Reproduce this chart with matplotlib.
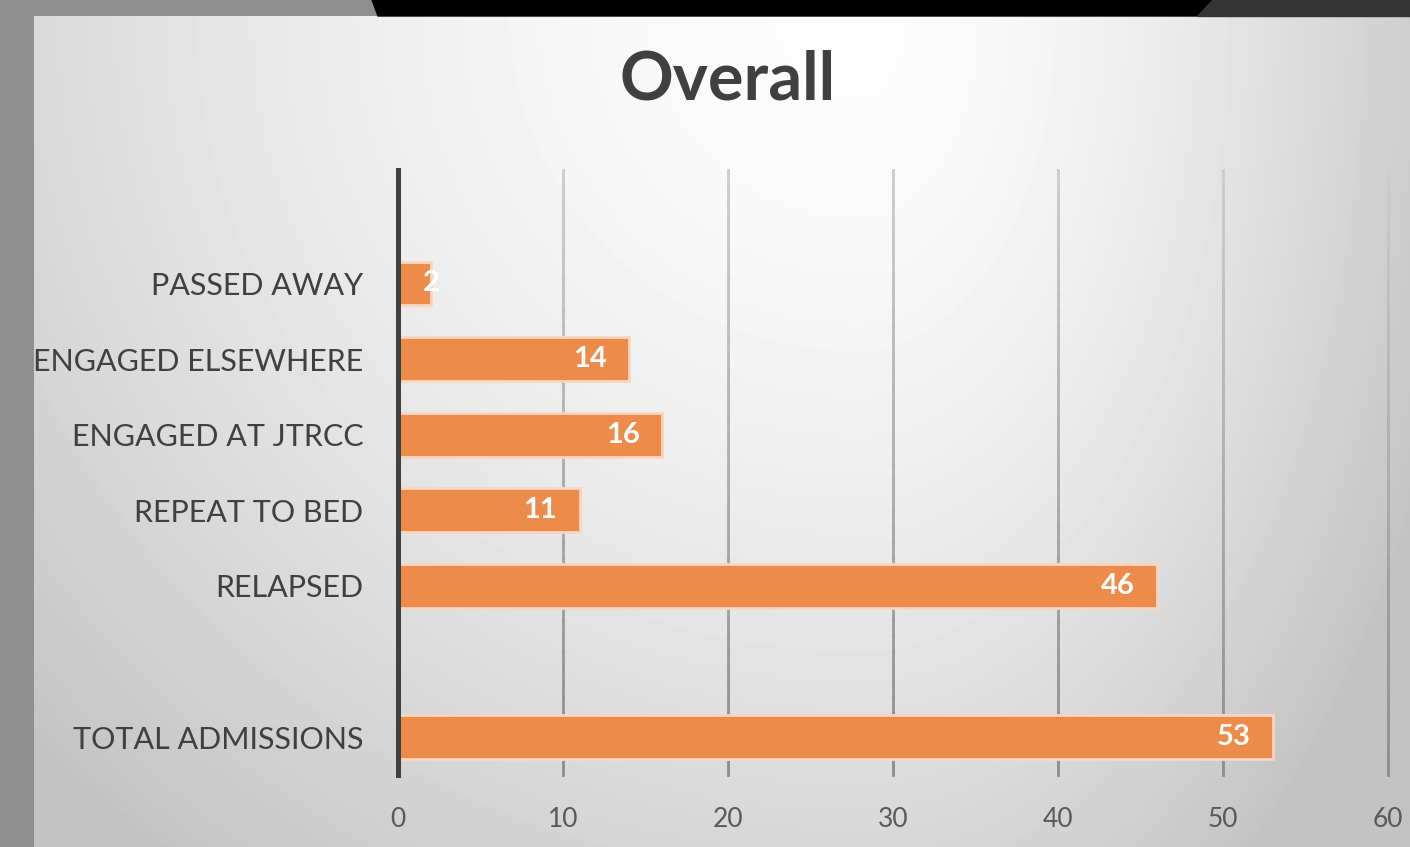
import numpy as np
import matplotlib.pyplot as plt
from matplotlib.patches import Polygon
from matplotlib.collections import LineCollection

# --- data ---
categories = ['', 'PASSED AWAY', 'ENGAGED ELSEWHERE', 'ENGAGED AT JTRCC',
              'REPEAT TO BED', 'RELAPSED', '', 'TOTAL ADMISSIONS']
values = [None, 2, 14, 16, 11, 46, None, 53]
xticks = [0, 10, 20, 30, 40, 50, 60]

W, H = 1410, 847
fig = plt.figure(figsize=(W / 100, H / 100), dpi=100)
fig.patch.set_facecolor('#8f8f8f')

# --- background (slide + panel gradient) ---
bg = fig.add_axes([0, 0, 1, 1])
bg.set_xlim(0, W)
bg.set_ylim(H, 0)
bg.axis('off')

xx, yy = np.meshgrid(np.arange(34, W), np.arange(16, H))
cx = 860
dx = np.where(xx < cx, (cx - xx) / 1150.0, (xx - cx) / 640.0)
dy = (yy - 16) / 1100.0
d = np.sqrt(dx ** 2 + dy ** 2)
shade = np.clip(253 - 60 * d ** 1.6, 196, 253) / 255.0
bg.imshow(shade, cmap='gray', vmin=0, vmax=1, extent=[34, W, H, 16],
          aspect='auto', interpolation='bilinear')
bg.add_patch(Polygon([[372, 0], [1212, 0], [1197, 16], [378, 16]],
                     closed=True, color='black'))
bg.add_patch(Polygon([[1212, 0], [W, 0], [W, 16], [1197, 16]],
                     closed=True, color='#343434'))

# --- chart ---
ax = fig.add_axes([398 / W, (H - 775) / H, (1388 - 398) / W, (775 - 170) / H])
ax.patch.set_alpha(0)
ax.set_xlim(0, 60)
ax.set_ylim(len(categories) - 0.5, -0.5)

# gridlines fading from light (top) to darker (bottom)
ys = np.linspace(-0.5, len(categories) - 0.5, 40)
for t in xticks[1:]:
    segs = [[(t, ys[i]), (t, ys[i + 1])] for i in range(len(ys) - 1)]
    g = np.linspace(0.80, 0.55, len(segs))
    ax.add_collection(LineCollection(segs, colors=[(c, c, c) for c in g],
                                     linewidths=2, capstyle='projecting',
                                     clip_on=False, zorder=1))

pos = np.arange(len(categories))
for p, v in zip(pos, values):
    if v is None:
        continue
    ax.barh(p, v, height=0.58, color='#ED8B4A', edgecolor='#F8D6BF',
            linewidth=2, zorder=3)
    if v < 5:
        ax.annotate(str(v), (v, p), ha='center', va='center', color='white',
                    fontsize=21, fontweight='bold', family='Lato', zorder=4)
    else:
        ax.annotate(str(v), (v, p), xytext=(-16, 0), textcoords='offset points',
                    ha='right', va='center', color='white', fontsize=21,
                    fontweight='bold', family='Lato', zorder=4)

ax.set_xticks(xticks)
ax.set_yticks(pos)
ax.set_yticklabels(categories)
for s in ['top', 'right', 'bottom']:
    ax.spines[s].set_visible(False)
ax.spines['left'].set_color('#404040')
ax.spines['left'].set_linewidth(3.6)
ax.spines['left'].set_zorder(5)
ax.tick_params(length=0)
ax.tick_params(axis='y', pad=25, labelsize=22, labelcolor='#404040')
ax.tick_params(axis='x', pad=23, labelsize=19, labelcolor='#595959')
for lbl in ax.get_xticklabels() + ax.get_yticklabels():
    lbl.set_family('Lato')

fig.text(728 / W, 1 - 80 / H, 'Overall', ha='center', va='center',
         fontsize=48, fontweight='bold', color='#404040', family='Lato')

fig.savefig('out.png', dpi=100)
